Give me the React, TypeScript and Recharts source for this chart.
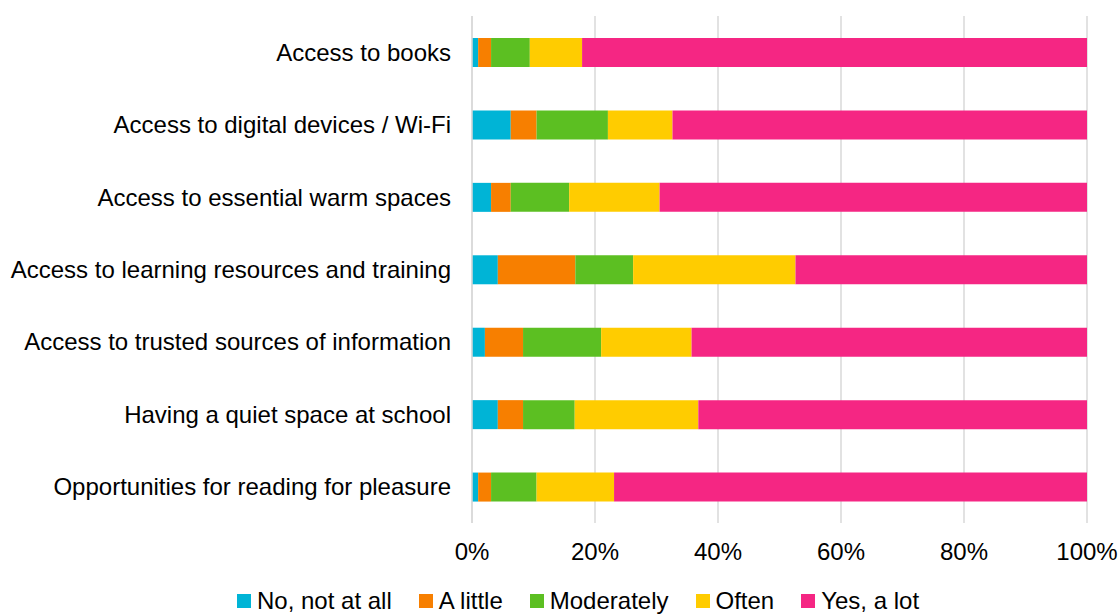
import React from "react";
import { BarChart, Bar, XAxis, YAxis, CartesianGrid } from "recharts";

const categories = [
  "Access to books",
  "Access to digital devices / Wi-Fi",
  "Access to essential warm spaces",
  "Access to learning resources and training",
  "Access to trusted sources of information",
  "Having a quiet space at school",
  "Opportunities for reading for pleasure",
];

const noNotAtAll = [1.0, 6.3, 3.1, 4.2, 2.1, 4.2, 1.0];
const aLittle = [2.1, 4.2, 3.2, 12.6, 6.2, 4.1, 2.1];
const moderately = [6.3, 11.6, 9.5, 9.4, 12.7, 8.4, 7.4];
const often = [8.5, 10.5, 14.7, 26.4, 14.7, 20.1, 12.6];
const yesALot = [82.1, 67.4, 69.5, 47.4, 64.3, 63.2, 76.9];

const xTicks = [0, 20, 40, 60, 80, 100];

const series = [
  { key: "noNotAtAll", label: "No, not at all", color: "#00B4D6", values: noNotAtAll },
  { key: "aLittle", label: "A little", color: "#F77F00", values: aLittle },
  { key: "moderately", label: "Moderately", color: "#5CBF22", values: moderately },
  { key: "often", label: "Often", color: "#FFCC00", values: often },
  { key: "yesALot", label: "Yes, a lot", color: "#F52683", values: yesALot },
];

const data = categories.map((name, i) => {
  const row: Record<string, string | number> = { name };
  series.forEach((s) => {
    row[s.key] = s.values[i];
  });
  return row;
});

const font = "'Liberation Sans', Arial, sans-serif";

function Legend() {
  return (
    <div
      style={{
        position: "absolute",
        left: 237,
        top: 589,
        display: "flex",
        alignItems: "center",
        fontFamily: font,
        fontSize: 24,
        lineHeight: "24px",
        color: "#000",
        whiteSpace: "nowrap",
      }}
    >
      {series.map((s) => (
        <div key={s.key} style={{ display: "flex", alignItems: "center", marginRight: 27 }}>
          <span style={{ width: 14, height: 14, background: s.color, marginRight: 6, display: "inline-block" }} />
          <span>{s.label}</span>
        </div>
      ))}
    </div>
  );
}

export default function App() {
  return (
    <div style={{ position: "absolute", left: 0, top: 0, width: 1120, height: 615, background: "#fff" }}>
      <BarChart
        width={1120}
        height={615}
        data={data}
        layout="vertical"
        margin={{ top: 16, right: 33, left: 0, bottom: 52 }}
        barSize={29}
      >
        <CartesianGrid horizontal={false} vertical={true} stroke="#D9D9D9" strokeWidth={1.5} />
        <XAxis
          type="number"
          domain={[0, 100]}
          ticks={xTicks}
          tickFormatter={(v: number) => `${v}%`}
          axisLine={false}
          tickLine={false}
          tickSize={0}
          tickMargin={20}
          height={40}
          tick={{ fill: "#000", fontSize: 24, fontFamily: font }}
        />
        <YAxis
          type="category"
          dataKey="name"
          width={472}
          axisLine={{ stroke: "#D9D9D9", strokeWidth: 1.5 }}
          tickLine={false}
          tickSize={0}
          tickMargin={21}
          interval={0}
          tick={{ fill: "#000", fontSize: 24, fontFamily: font }}
        />
        {series.map((s) => (
          <Bar key={s.key} dataKey={s.key} stackId="a" fill={s.color} isAnimationActive={false} />
        ))}
      </BarChart>
      <Legend />
    </div>
  );
}
